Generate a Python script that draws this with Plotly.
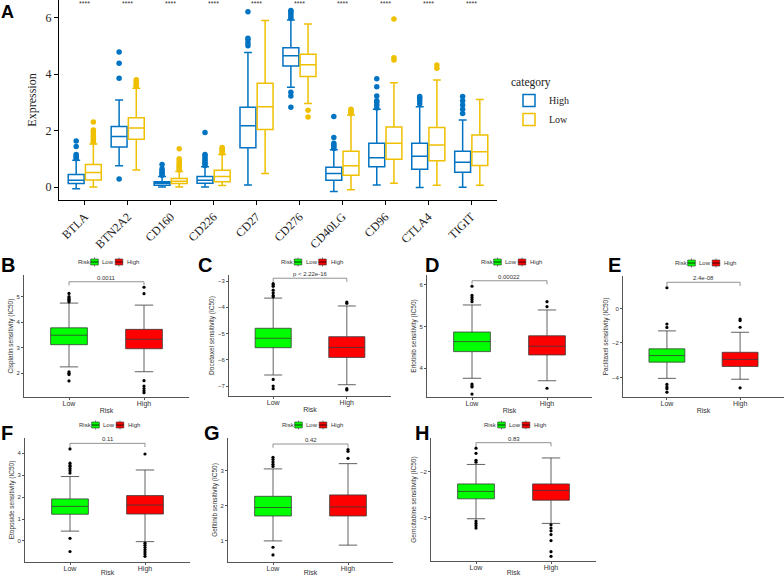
import plotly.graph_objects as go

W, H = 784, 576

# ---------------- Panel A data ----------------
genes = ["BTLA", "BTN2A2", "CD160", "CD226", "CD27", "CD276", "CD40LG", "CD96", "CTLA4", "TIGIT"]

high_lf = [-0.06, 0.75, 0.00, 0.00, 0.07, 3.53, -0.16, 0.07, -0.02, -0.01]
high_q1 = [0.12, 1.42, 0.06, 0.13, 1.39, 4.28, 0.24, 0.72, 0.63, 0.52]
high_med = [0.24, 1.79, 0.13, 0.24, 2.17, 4.65, 0.48, 1.04, 1.09, 0.88]
high_q3 = [0.44, 2.14, 0.19, 0.37, 2.82, 4.93, 0.70, 1.55, 1.55, 1.27]
high_uf = [0.95, 3.08, 0.37, 0.72, 4.76, 5.91, 1.32, 2.75, 2.84, 2.37]
high_out = [
    [1.00, 1.05, 1.10, 1.15, 1.43, 1.63],
    [0.28, 3.85, 4.38, 4.78],
    [0.42, 0.47, 0.52, 0.58, 0.65, 0.80],
    [0.76, 0.82, 0.88, 0.95, 1.02, 1.10, 1.15, 1.93],
    [5.00, 5.10, 5.20, 5.27, 6.20],
    [5.97, 6.05, 6.13, 6.20, 6.25, 3.35, 3.22, 2.82],
    [1.36, 1.42, 1.48, 1.55, 1.75, 2.50],
    [2.80, 2.90, 3.00, 3.05, 3.22, 3.55, 3.83],
    [2.95, 3.05, 3.14, 3.20],
    [2.60, 2.75, 2.90, 3.05, 3.20],
]

low_lf = [0.00, 0.60, 0.00, 0.05, 0.48, 2.96, -0.10, 0.13, 0.06, 0.06]
low_q1 = [0.25, 1.69, 0.12, 0.19, 2.04, 3.91, 0.42, 0.98, 0.93, 0.76]
low_med = [0.51, 2.09, 0.20, 0.37, 2.84, 4.33, 0.75, 1.55, 1.49, 1.25]
low_q3 = [0.80, 2.45, 0.30, 0.59, 3.67, 4.70, 1.27, 2.12, 2.11, 1.84]
low_uf = [1.52, 3.50, 0.55, 1.15, 5.89, 5.77, 2.55, 3.69, 3.79, 3.10]
low_out = [
    [1.58, 1.65, 1.72, 1.80, 1.88, 1.95, 2.02, 2.30],
    [3.55, 3.60, 3.65, 3.70, 3.75, 3.80],
    [0.60, 0.65, 0.70, 0.75, 0.80, 0.88, 0.95, 1.00, 1.35],
    [1.20, 1.25, 1.30, 1.35, 1.40],
    [],
    [2.72, 2.48],
    [2.60, 2.65, 2.70, 2.75],
    [4.50, 4.58, 5.95],
    [4.20, 4.32],
    [],
]
sig_labels = ["****"] * 10

# ---------------- Panels B-H data ----------------
drugs = ["Cisplatin", "Docetaxel", "Erlotinib", "Paclitaxel", "Etoposide", "Gefitinib", "Gemcitabine"]
letters = ["B", "C", "D", "E", "F", "G", "H"]
p_labels = ["0.0011", "p < 2.22e-16", "0.00022", "2.4e-08", "0.11", "0.42", "0.83"]
risk_groups = ["Low", "High"]
risk_colors = ["#00FF00", "#FF0000"]

rl_lf = [2.25, -6.58, 3.76, -4.05, 0.45, 1.00, -3.02]
rl_q1 = [3.12, -5.54, 4.40, -3.11, 1.22, 1.71, -2.59]
rl_med = [3.49, -5.18, 4.64, -2.73, 1.58, 1.95, -2.43]
rl_q3 = [3.78, -4.80, 4.87, -2.34, 1.92, 2.27, -2.27]
rl_uf = [4.75, -3.65, 5.52, -1.30, 2.94, 3.05, -1.85]
rl_out = [
    [5.13, 5.00, 4.95, 4.90, 4.85, 4.80, 2.06, 2.00, 1.95, 1.70],
    [-3.10, -3.15, -3.20, -3.35, -3.45, -3.55, -3.60, -6.75, -7.00, -7.10],
    [5.60, 5.65, 5.70, 5.75, 5.97, 3.62, 3.58, 3.55, 3.38],
    [1.20, -0.90, -1.10, -4.40, -4.55, -4.65, -4.85],
    [3.10, 3.20, 3.30, 3.40, 3.45, 3.55, 4.20, 0.12, -0.48],
    [3.12, 3.18, 3.25, 3.32, 3.38, 0.82, 0.60],
    [-1.50, -1.61, -1.76, -1.80, -3.07, -3.12, -3.17, -3.22],
]

rh_lf = [2.06, -6.95, 3.70, -4.10, -0.03, 0.88, -3.12]
rh_q1 = [2.96, -5.91, 4.32, -3.36, 1.23, 1.71, -2.62]
rh_med = [3.33, -5.53, 4.53, -2.95, 1.64, 1.97, -2.41]
rh_q3 = [3.72, -5.12, 4.78, -2.54, 2.07, 2.31, -2.27]
rh_uf = [4.67, -3.95, 5.40, -1.38, 3.24, 3.20, -1.71]
rh_out = [
    [5.37, 5.12, 1.71, 1.50, 1.40, 1.31, 1.24],
    [-3.85, -3.80, -7.10, -7.15],
    [5.48, 5.60, 3.52],
    [-0.61, -0.70, -1.09, -4.60],
    [3.97, -0.10, -0.20, -0.30, -0.40, -0.50, -0.60, -0.70],
    [3.35, 3.55, 3.60],
    [-3.15, -3.22, -3.28, -3.36, -3.49, -3.73, -3.83],
]

# ---------------- layout constants (pixels) ----------------
A_BOX = (59, 497, 0, 200)  # left, right, top, bottom
A_RANGE = [-0.46, 6.62]
PANELS = [  # left, right, top, bottom
    (24, 189, 275, 397),
    (229, 391, 275, 396),
    (427, 592, 275, 397),
    (623, 784, 276, 397),
    (25, 190, 438, 562),
    (228, 393, 438, 562),
    (431, 596, 438, 561),
]
LETTER_POS = [(-1, 252), (196, 252), (423, 252), (606, 252), (-1, 420), (202, 420), (413, 420)]
Y_RANGES = [[1.07, 5.85], [-7.38, -2.77], [3.31, 6.24], [-5.13, 1.88],
            [-0.96, 4.70], [0.40, 3.93], [-3.93, -1.28]]
DTICKS = [1, 1, 1, 2, 1, 1, 1]

C_HIGH = "#0073C2"
C_LOW = "#EFC000"
SERIF = "Liberation Serif, Times New Roman, serif"
SANS = "Liberation Sans, Arial, sans-serif"
TXT = "#333333"


def px_x(v):
    return v / W


def px_y(v):
    return 1 - v / H


fig = go.Figure()
annotations = []
shapes = []
layout = dict(
    width=W, height=H, margin=dict(l=0, r=0, t=0, b=0, autoexpand=False),
    paper_bgcolor="white", plot_bgcolor="white",
    boxmode="overlay", boxgap=0.3, showlegend=True,
)

# ---------------- Panel A ----------------
xpos = list(range(len(genes)))
for name, color, off, lf, q1, med, q3, uf, outs in [
    ("High", C_HIGH, -0.2, high_lf, high_q1, high_med, high_q3, high_uf, high_out),
    ("Low", C_LOW, 0.2, low_lf, low_q1, low_med, low_q3, low_uf, low_out),
]:
    fig.add_trace(go.Box(
        x=[p + off for p in xpos], q1=q1, median=med, q3=q3,
        lowerfence=lf, upperfence=uf, width=0.37, name=name,
        line=dict(color=color, width=1.5), fillcolor="white",
        xaxis="x", yaxis="y", boxpoints=False,
    ))
    ox, oy = [], []
    for i, vals in enumerate(outs):
        ox += [i + off] * len(vals)
        oy += vals
    fig.add_trace(go.Scatter(
        x=ox, y=oy, mode="markers", marker=dict(color=color, size=5.5),
        showlegend=False, xaxis="x", yaxis="y", hoverinfo="skip",
    ))

layout["xaxis"] = dict(
    domain=[px_x(A_BOX[0]), px_x(A_BOX[1])], anchor="y",
    range=[-0.6, len(genes) - 0.4], tickvals=xpos, ticktext=genes,
    tickangle=-45, showline=True, linecolor="black", linewidth=1,
    ticks="outside", ticklen=4, tickcolor="black", showgrid=False, zeroline=False,
    tickfont=dict(family=SERIF, size=12, color="#222"),
)
layout["yaxis"] = dict(
    domain=[px_y(A_BOX[3]), px_y(A_BOX[2])], anchor="x",
    range=A_RANGE, dtick=2, showline=True, linecolor="black", linewidth=1,
    ticks="outside", ticklen=4, tickcolor="black", showgrid=False, zeroline=False,
    tickfont=dict(family=SERIF, size=12, color="#222"),
    title=dict(text="Expression", font=dict(family=SERIF, size=12, color="#222"), standoff=6),
)
layout["legend"] = dict(
    x=px_x(509), y=px_y(71), xanchor="left", yanchor="top",
    title=dict(text="category", font=dict(family=SERIF, size=11.5, color="#222")),
    font=dict(family=SERIF, size=10, color="#222"), bgcolor="rgba(0,0,0,0)",
    tracegroupgap=0, itemwidth=30,
)
span_a = A_RANGE[1] - A_RANGE[0]
for i, s in enumerate(sig_labels):
    annotations.append(dict(
        x=i, y=A_RANGE[1] - 0.018 * span_a, xref="x", yref="y", text=s,
        showarrow=False, font=dict(family=SANS, size=7, color=TXT), yanchor="middle",
    ))
annotations.append(dict(
    x=px_x(-1), y=px_y(0), xref="paper", yref="paper", text="<b>A</b>",
    showarrow=False, xanchor="left", yanchor="top",
    font=dict(family=SANS, size=18, color="black"),
))


def legend_key(cx, cy, fill):
    """Small box-plot legend key centred at pixel (cx, cy)."""
    shapes.append(dict(type="line", xref="paper", yref="paper",
                       x0=px_x(cx), x1=px_x(cx), y0=px_y(cy - 4.5), y1=px_y(cy + 4.5),
                       line=dict(color=TXT, width=0.6)))
    shapes.append(dict(type="rect", xref="paper", yref="paper",
                       x0=px_x(cx - 3.8), x1=px_x(cx + 3.8), y0=px_y(cy - 3), y1=px_y(cy + 3),
                       fillcolor=fill, line=dict(color=TXT, width=0.6)))
    shapes.append(dict(type="line", xref="paper", yref="paper",
                       x0=px_x(cx - 3.8), x1=px_x(cx + 3.8), y0=px_y(cy), y1=px_y(cy),
                       line=dict(color="black", width=0.8)))


# ---------------- Panels B-H ----------------
for i in range(len(drugs)):
    k = i + 2
    xa, ya = f"x{k}", f"y{k}"
    left, right, top, bottom = PANELS[i]
    groups = [
        ("Low", risk_colors[0], rl_lf, rl_q1, rl_med, rl_q3, rl_uf, rl_out),
        ("High", risk_colors[1], rh_lf, rh_q1, rh_med, rh_q3, rh_uf, rh_out),
    ]
    all_vals = []
    for name, fill, lf, q1, med, q3, uf, outs in groups:
        fig.add_trace(go.Box(
            x=[name], q1=[q1[i]], median=[med[i]], q3=[q3[i]],
            lowerfence=[lf[i]], upperfence=[uf[i]], name=name,
            fillcolor=fill, line=dict(color="#3a3a3a", width=0.8),
            xaxis=xa, yaxis=ya, showlegend=False, boxpoints=False,
        ))
        fig.add_trace(go.Scatter(
            x=[name] * len(outs[i]), y=outs[i], mode="markers",
            marker=dict(color="black", size=3.2), showlegend=False,
            xaxis=xa, yaxis=ya, hoverinfo="skip",
        ))
        all_vals += outs[i] + [uf[i], lf[i]]
    yr = Y_RANGES[i]
    span = yr[1] - yr[0]
    yb = max(all_vals) + 0.045 * span
    tick = 0.03 * span
    fig.add_trace(go.Scatter(
        x=["Low", "Low", "High", "High"], y=[yb - tick, yb, yb, yb - tick],
        mode="lines", line=dict(color="#777", width=0.8), showlegend=False,
        xaxis=xa, yaxis=ya, hoverinfo="skip",
    ))
    annotations.append(dict(
        x=0.5, y=yb, xref=xa, yref=ya, text=p_labels[i], showarrow=False,
        yanchor="bottom", yshift=-1, font=dict(family=SANS, size=6, color=TXT),
    ))
    layout[f"xaxis{k}"] = dict(
        domain=[px_x(left), px_x(right)], anchor=ya, type="category",
        categoryorder="array", categoryarray=risk_groups, range=[-0.6, 1.6],
        showline=True, linecolor="#555", linewidth=1, ticks="outside", ticklen=2,
        tickcolor="#555", showgrid=False, zeroline=False, ticklabelstandoff=-2,
        tickfont=dict(family=SANS, size=7, color=TXT),
        title=dict(text="Risk", font=dict(family=SANS, size=7, color=TXT), standoff=0),
    )
    layout[f"yaxis{k}"] = dict(
        domain=[px_y(bottom), px_y(top)], anchor=xa, range=yr, dtick=DTICKS[i],
        showline=True, linecolor="#555", linewidth=1, ticks="outside", ticklen=2,
        tickcolor="#555", showgrid=False, zeroline=False,
        tickfont=dict(family=SANS, size=6, color=TXT),
        title=dict(text=f"{drugs[i]} sensitivity (IC50)",
                   font=dict(family=SANS, size=6.5, color=TXT), standoff=2),
    )
    # legend row: Risk [key] Low [key] High
    cx = (left + right) / 2
    ly = top - 13
    annotations.append(dict(x=px_x(cx - 31), y=px_y(ly), xref="paper", yref="paper",
                            text="Risk", showarrow=False, xanchor="left", yanchor="middle",
                            font=dict(family=SANS, size=6, color=TXT)))
    legend_key(cx - 12, ly, risk_colors[0])
    annotations.append(dict(x=px_x(cx - 6.5), y=px_y(ly), xref="paper", yref="paper",
                            text=risk_groups[0], showarrow=False, xanchor="left", yanchor="middle",
                            font=dict(family=SANS, size=6, color=TXT)))
    legend_key(cx + 12.5, ly, risk_colors[1])
    annotations.append(dict(x=px_x(cx + 18.5), y=px_y(ly), xref="paper", yref="paper",
                            text=risk_groups[1], showarrow=False, xanchor="left", yanchor="middle",
                            font=dict(family=SANS, size=6, color=TXT)))
    lx, lyp = LETTER_POS[i]
    annotations.append(dict(
        x=px_x(lx), y=px_y(lyp), xref="paper", yref="paper",
        text=f"<b>{letters[i]}</b>", showarrow=False, xanchor="left", yanchor="top",
        font=dict(family=SANS, size=20, color="black"),
    ))

layout["annotations"] = annotations
layout["shapes"] = shapes
fig.update_layout(**layout)
fig.write_html("out.html", config={"displayModeBar": False},
               post_script="document.body.style.margin='0px';")
